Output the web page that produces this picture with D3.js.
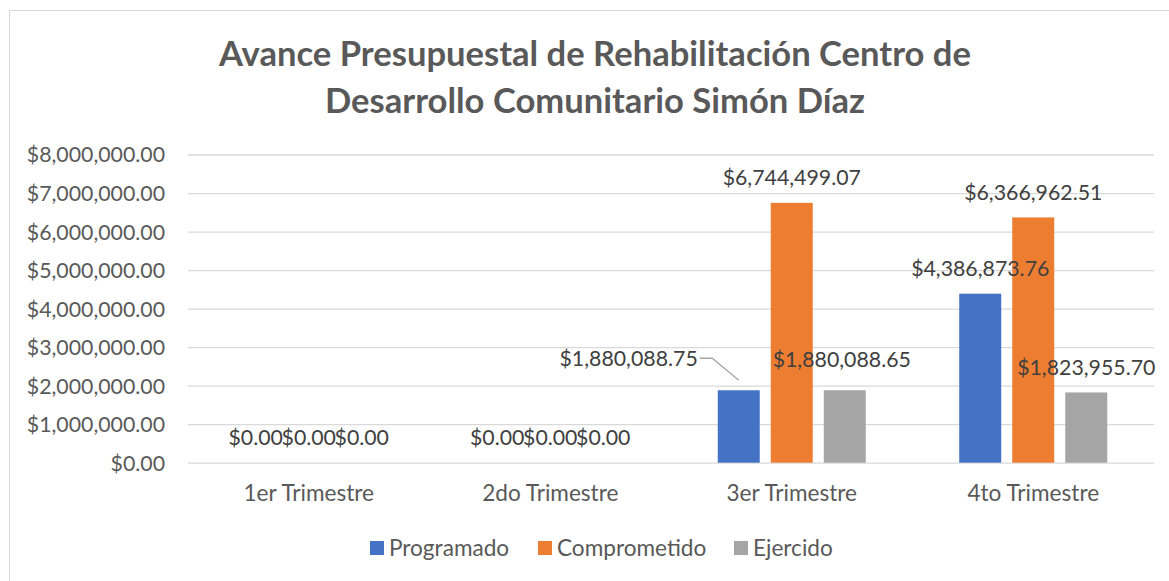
<!DOCTYPE html>
<html>
<head>
<meta charset="utf-8">
<script src="https://cdn.jsdelivr.net/npm/d3@7"></script>
<style>
  html, body { margin: 0; padding: 0; background: #fff; }
  svg { display: block; font-family: Lato, "Open Sans", sans-serif; }
</style>
</head>
<body>
<svg id="chart" width="1169" height="581"></svg>
<script>
const titleLines = ["Avance Presupuestal de Rehabilitación Centro de", "Desarrollo Comunitario Simón Díaz"];
const categories = ["1er Trimestre", "2do Trimestre", "3er Trimestre", "4to Trimestre"];
const seriesNames = ["Programado", "Comprometido", "Ejercido"];
const programado = [0, 0, 1880088.75, 4386873.76];
const comprometido = [0, 0, 6744499.07, 6366962.51];
const ejercido = [0, 0, 1880088.65, 1823955.70];
const yTicks = [0, 1000000, 2000000, 3000000, 4000000, 5000000, 6000000, 7000000, 8000000];
const colors = ["#4472C4", "#ED7D31", "#A5A5A5"];

const seriesValues = [programado, comprometido, ejercido];
const textColor = "#595959";
const numSize = 21.3;
const wordSize = 22.6;

const svg = d3.select("#chart");

// chart frame
svg.append("rect").attr("x", 9.5).attr("y", 10.5).attr("width", 1170).attr("height", 580)
  .attr("fill", "#fff").attr("stroke", "#d9d9d9").attr("stroke-width", 1);

const plot = { left: 188, right: 1154, top: 154.5, bottom: 462.7 };

const x = d3.scaleBand().domain(categories).range([plot.left, plot.right]).paddingInner(0).paddingOuter(0);
const cw = x.bandwidth();
const xs = d3.scaleBand().domain(seriesNames).range([46.75, cw - 46.75]).paddingInner(0.208).paddingOuter(0);
const y = d3.scaleLinear().domain([0, 8000000]).range([plot.bottom, plot.top]);

const money = v => "$" + d3.format(",.2f")(v);

// title
svg.append("text").attr("x", 595).attr("text-anchor", "middle")
  .attr("fill", textColor).attr("font-weight", "bold").attr("font-size", 34.6)
  .selectAll("tspan").data(titleLines).join("tspan")
  .attr("x", 595).attr("y", (d, i) => 66 + i * 46.5).text(d => d);

// y axis with gridlines
const yAxis = d3.axisLeft(y).tickValues(yTicks).tickFormat(money)
  .tickSize(-(plot.right - plot.left)).tickPadding(23);
const gy = svg.append("g").attr("transform", `translate(${plot.left},0)`).call(yAxis);
gy.select(".domain").remove();
gy.selectAll(".tick line").attr("stroke", "#d9d9d9").attr("stroke-width", 1.3);
gy.selectAll(".tick text").attr("fill", textColor).attr("font-size", numSize)
  .attr("font-family", "Lato, sans-serif").attr("dy", "0.35em");

// x axis labels
const xAxis = d3.axisBottom(x).tickSize(0).tickPadding(0);
const gx = svg.append("g").attr("transform", `translate(0,${plot.bottom})`).call(xAxis);
gx.select(".domain").remove();
gx.selectAll(".tick text").attr("fill", textColor).attr("font-size", wordSize)
  .attr("font-family", "Lato, sans-serif").attr("dy", 0).attr("y", 38.5);

// bars
const flat = [];
categories.forEach((c, ci) => {
  seriesNames.forEach((s, si) => {
    flat.push({ cat: c, ser: s, si, ci, value: seriesValues[si][ci] });
  });
});

svg.append("g").selectAll("rect").data(flat.filter(d => d.value > 0)).join("rect")
  .attr("x", d => x(d.cat) + xs(d.ser))
  .attr("y", d => y(d.value))
  .attr("width", xs.bandwidth())
  .attr("height", d => y(0) - y(d.value))
  .attr("fill", d => colors[d.si]);

// data labels
const labelGap = 25;
const lg = svg.append("g");
flat.forEach(d => {
  const bx = x(d.cat) + xs(d.ser) + xs.bandwidth() / 2;
  const top = y(d.value);
  let lx = bx, ly = top - labelGap, anchor = "middle";
  if (d.cat === "3er Trimestre" && d.ser === "Programado") {
    // moved label with leader line
    lx = bx - 41; ly = top - 32; anchor = "end";
    lg.append("polyline")
      .attr("points", [[bx, top - 10], [bx - 26.5, top - 32], [bx - 39, top - 32]].map(p => p.join(",")).join(" "))
      .attr("fill", "none").attr("stroke", "#a6a6a6").attr("stroke-width", 1.3);
  }
  if (d.cat === "3er Trimestre" && d.ser === "Ejercido") {
    lx = bx - 3; ly = top - 31;
  }
  lg.append("text").attr("x", lx).attr("y", ly).attr("dy", "0.35em")
    .attr("text-anchor", anchor).attr("fill", "#404040").attr("font-size", numSize)
    .text(money(d.value));
});

// legend
const legendItems = [
  { name: seriesNames[0], x: 370 },
  { name: seriesNames[1], x: 538 },
  { name: seriesNames[2], x: 734 }
];
const leg = svg.append("g");
legendItems.forEach((it, i) => {
  leg.append("rect").attr("x", it.x).attr("y", 541).attr("width", 14).attr("height", 14).attr("fill", colors[i]);
  leg.append("text").attr("x", it.x + 19).attr("y", 548).attr("dy", "0.35em")
    .attr("fill", textColor).attr("font-size", wordSize).text(it.name);
});
</script>
</body>
</html>
